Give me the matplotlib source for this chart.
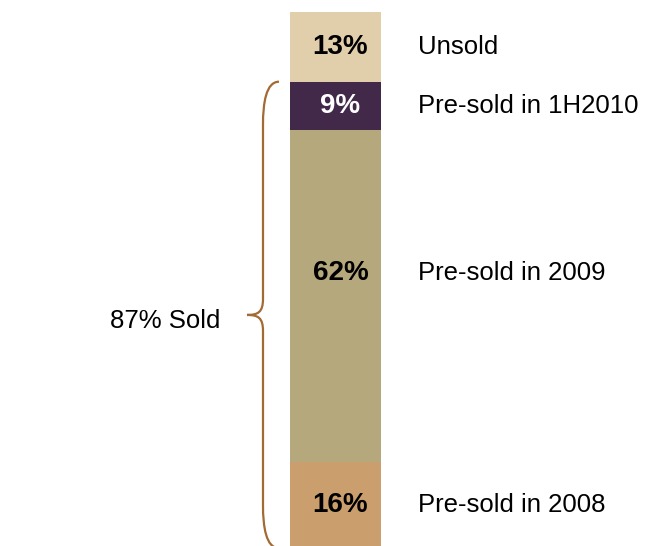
import matplotlib
matplotlib.use('Agg')
import matplotlib.pyplot as plt
from matplotlib.path import Path
from matplotlib.patches import PathPatch

plt.rcParams['font.family'] = ['Liberation Sans', 'DejaVu Sans']

# share of units, bottom to top
shares = [16, 62, 9, 13]
value_labels = ['16%', '62%', '9%', '13%']
names = ['Pre-sold in 2008', 'Pre-sold in 2009', 'Pre-sold in 1H2010', 'Unsold']
colors = ['#CB9F6D', '#B5A87C', '#42294A', '#E1CEAB']
text_colors = ['black', 'black', 'white', 'black']
sold_share = 87
sold_label = '87% Sold'

fig = plt.figure(figsize=(6.47, 5.46), dpi=100)
ax = fig.add_axes([0, -0.004, 1, 0.982])
ax.set_xlim(0, 647)
ax.set_ylim(0, 100)
ax.axis('off')

bar_x = 335.5
bottom = 0
for i, (s, c) in enumerate(zip(shares, colors)):
    ax.bar(bar_x, s, width=91, bottom=bottom, color=c, edgecolor='none')
    mid = bottom + s / 2
    # the big middle label sits a bit above centre
    ty = mid + 4.3 if s > 50 else mid
    ax.text(bar_x + 5, ty, value_labels[i], ha='center', va='center',
            fontsize=20, fontweight='bold', color=text_colors[i])
    ax.text(418, ty, names[i], ha='left', va='center', fontsize=18.5)
    bottom += s

# curly brace spanning the sold part
top, mid = sold_share, sold_share / 2
xs, xt, xe = 263, 247, 279
verts = [
    (xe, top), (266, top), (xs, top - 4), (xs, top - 8),
    (xs, mid + 3), (xs, mid + 0.5), (258, mid), (xt, mid),
    (258, mid), (xs, mid - 0.5), (xs, mid - 3),
    (xs, 8), (xs, 4), (266, 0), (xe, 0),
]
codes = [Path.MOVETO, Path.CURVE4, Path.CURVE4, Path.CURVE4,
         Path.LINETO, Path.CURVE4, Path.CURVE4, Path.CURVE4,
         Path.CURVE4, Path.CURVE4, Path.CURVE4,
         Path.LINETO, Path.CURVE4, Path.CURVE4, Path.CURVE4]
ax.add_patch(PathPatch(Path(verts, codes), facecolor='none',
                       edgecolor='#A36A33', lw=1.6, clip_on=False))
ax.text(165, mid - 1.2, sold_label, ha='center', va='center', fontsize=18.5)

fig.savefig('out.png', dpi=100)
